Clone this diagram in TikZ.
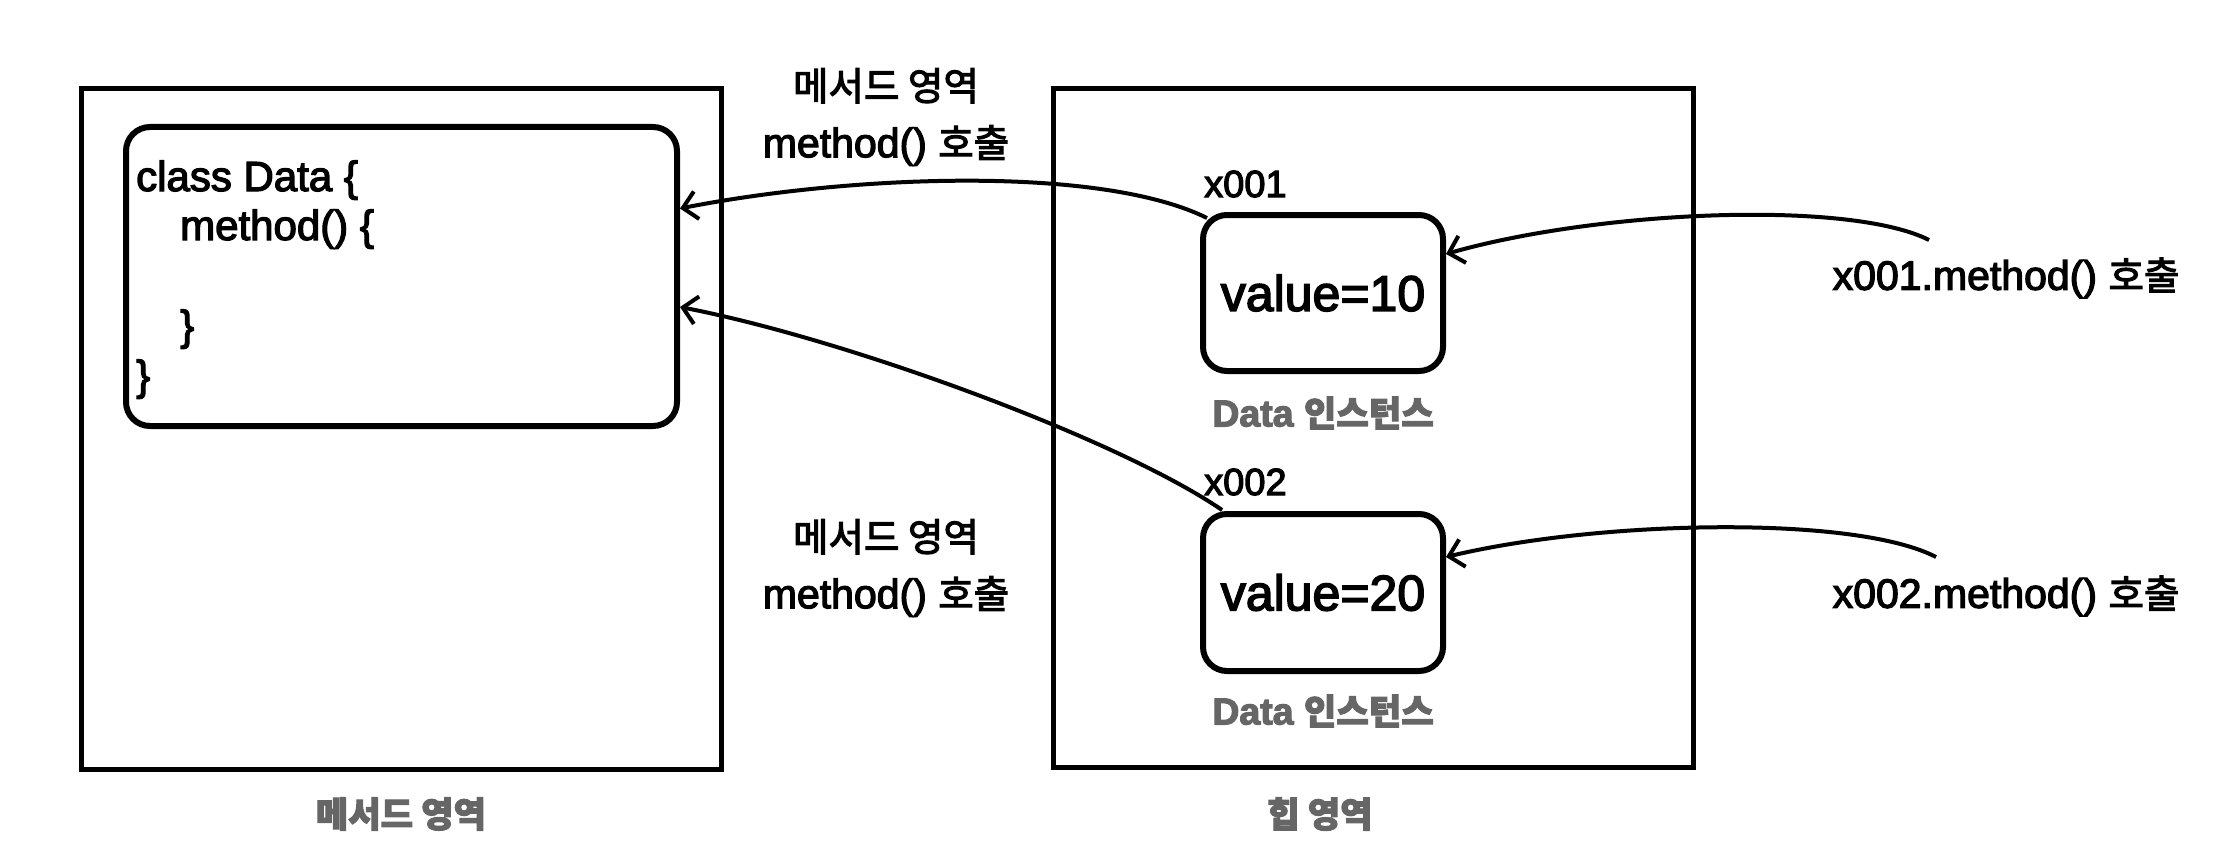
\documentclass[tikz,border=0pt]{standalone}
\usepackage{fontspec}
\setmainfont{Liberation Sans}[FakeBold=3]
\newfontfamily\ko{Noto Sans CJK KR}[Scale=0.94,FakeBold=3]
\usetikzlibrary{arrows.meta}
\definecolor{labelgray}{RGB}{102,102,102}
\begin{document}
\begin{tikzpicture}[x=1pt,y=-1pt,
  areabox/.style={draw, line width=5pt, inner sep=0pt},
  objbox/.style={draw, line width=6pt, rounded corners=24pt, inner sep=0pt},
  lbl/.style={font=\fontsize{41}{57}\selectfont, align=center},
  code/.style={font=\fontsize{42}{44}\selectfont, anchor=base west, inner sep=0pt},
  glbl/.style={font=\fontsize{37.5}{40}\selectfont\bfseries, text=labelgray},
  arr/.style={line width=4pt, -{Straight Barb[length=14pt,width=28pt]}}]
\useasboundingbox (0,0) rectangle (2240,848);

% method area
\node[areabox, minimum width=640pt, minimum height=680pt] (marea) at (401,429) {};
\node[objbox, minimum width=551pt, minimum height=299pt] (cls) at (401.5,276.5) {};
\node[code] (c1) at (136,191) {class Data \{};
\node[code] (c2) at (180,240) {method() \{};
\node[code] (c3) at (180,340) {\}};
\node[code] (c4) at (136,390) {\}};
\node[glbl] (mlbl) at (401,814) {\ko 메서드 영역};

% heap area
\node[areabox, minimum width=640pt, minimum height=678pt] (heap) at (1373,428) {};
\node[objbox, minimum width=240pt, minimum height=156pt, font=\fontsize{50}{54}\selectfont] (b1) at (1323,293) {value=10};
\node[objbox, minimum width=240pt, minimum height=157pt, font=\fontsize{50}{54}\selectfont] (b2) at (1323,592.5) {value=20};
\node[font=\fontsize{38}{40}\selectfont, anchor=west, inner sep=0pt] (a1) at (1204,184) {x001};
\node[font=\fontsize{38}{40}\selectfont, anchor=west, inner sep=0pt] (a2) at (1204,482) {x002};
\node[glbl] (d1) at (1323,413) {Data {\ko 인스턴스}};
\node[glbl] (d2) at (1323,711) {Data {\ko 인스턴스}};
\node[glbl] (hlbl) at (1320,814) {\ko 힙 영역};

% call labels
\node[lbl] (m1) at (886,117) {{\ko 메서드 영역}\\method() {\ko 호출}};
\node[lbl] (m2) at (886,568) {{\ko 메서드 영역}\\method() {\ko 호출}};
\node[lbl] (t1) at (2006,278) {x001.method() {\ko 호출}};
\node[lbl] (t2) at (2006,596) {x002.method() {\ko 호출}};

% connectors
\draw[arr] ([xshift=7pt,yshift=-6pt]b1.north west) .. controls (1100,165) and (850,175) .. ([yshift=68pt]cls.east);
\draw[arr] ([xshift=22pt,yshift=1pt]b2.north west) .. controls (1120,440) and (850,340) .. ([yshift=-30.5pt]cls.east);
\draw[arr] ([xshift=-77pt,yshift=38pt]t1.center) .. controls (1850,200) and (1600,210) .. ([yshift=39pt]b1.east);
\draw[arr] ([xshift=-70pt,yshift=39pt]t2.center) .. controls (1855,515) and (1600,520) .. ([yshift=35.5pt]b2.east);
\end{tikzpicture}
\end{document}
